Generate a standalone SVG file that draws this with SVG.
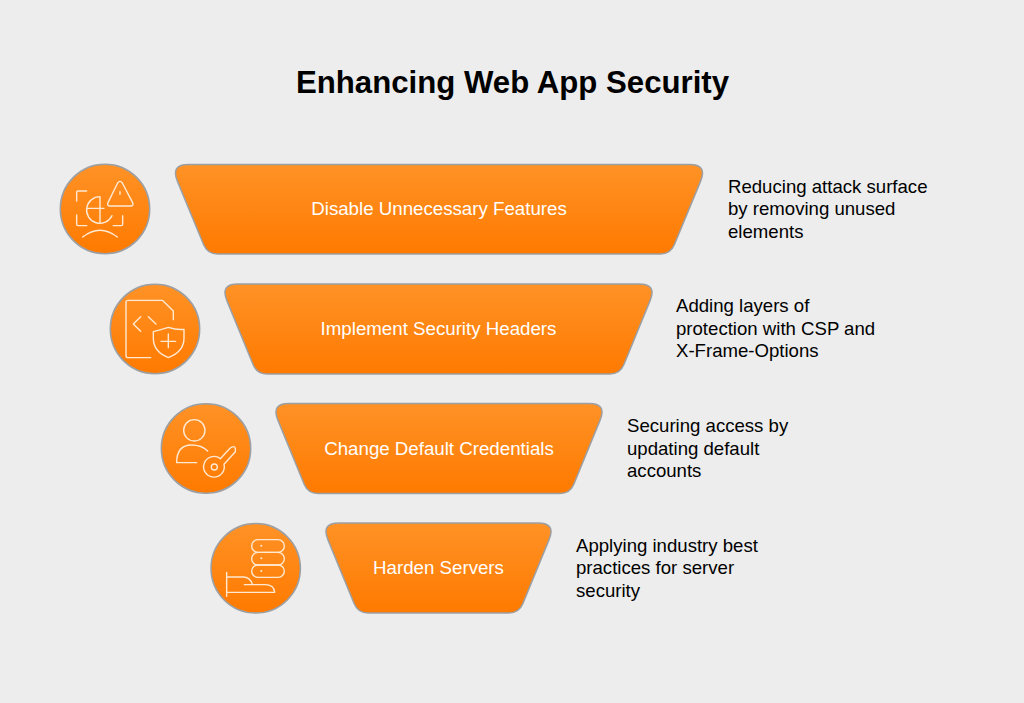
<svg xmlns="http://www.w3.org/2000/svg" width="1024" height="703" viewBox="0 0 1024 703">
<style>
.f{fill:url(#g);stroke:#9c9fa3;stroke-width:1.5}
.i{fill:none;stroke:#ffe9d2;stroke-width:4.2;stroke-linecap:round;stroke-linejoin:round}
.d{fill:#ffe9d2}
text{font-family:"Liberation Sans",Arial,sans-serif}
.t{font-size:31.2px;font-weight:700;fill:#000;text-anchor:middle}
.l{font-size:18.7px;fill:#fff;text-anchor:middle}
.x{font-size:18.6px;fill:#000}
</style>
<defs>
<linearGradient id="g" x1="0" y1="0" x2="0" y2="1"><stop offset="0" stop-color="#ff9226"/><stop offset="1" stop-color="#ff7a00"/></linearGradient>
</defs>
<rect width="1024" height="703" fill="#ededed"/>
<text class="t" x="512.5" y="93">Enhancing Web App Security</text>
<g id="connectors"/>
<g id="step1">
<circle class="f" cx="105" cy="209" r="44.7"/>
<g transform="translate(50 155) scale(.3333)">
<path class="i" d="M110 108H84Q80 108 80 112V138M80 180V208Q80 212 84 212H110M190 212H214Q218 212 218 208V182"/>
<path class="i" d="M150 125A40 40 0 1 0 186 182M150 125V204M110 160H162"/>
<path class="i" d="M203 84Q210 74 217 84L248 143Q252 153 242 153H180Q170 153 174 143ZM210 110V118"/>
<path class="i" d="M98 246Q150 205 202 246"/>
</g>
<path class="f" d="M188.4 164.5H689.6Q707.6 164.5 700.6 181.1L674.3 244.8Q670.5 254 660.5 254H217.5Q207.5 254 203.7 244.8L177.4 181.1Q170.4 164.5 188.4 164.5Z"/>
<text class="l" x="439" y="215">Disable Unnecessary Features</text>
<text class="x" x="728" y="192.5">Reducing attack surface</text>
<text class="x" x="728" y="215">by removing unused</text>
<text class="x" x="728" y="237.5">elements</text>
</g>
<g id="step2">
<circle class="f" cx="155" cy="329" r="44.7"/>
<g transform="translate(100 275) scale(.3333)">
<path class="i" d="M152 248H84Q78 248 78 242V82Q78 76 84 76H187L220 108V134"/>
<path class="i" d="M122 125L100 147L122 169M145 125L168 147"/>
<path class="i" d="M205 157Q230 165 252 163V190Q252 230 205 248Q160 230 160 190V170Q180 165 205 157ZM183 199H227M205 177V218"/>
</g>
<path class="f" d="M237.9 284H639.1Q657.1 284 650.1 300.6L623.8 364.8Q620 374 610 374H267Q257 374 253.2 364.8L226.9 300.6Q219.9 284 237.9 284Z"/>
<text class="l" x="438.5" y="334.5">Implement Security Headers</text>
<text class="x" x="676" y="312">Adding layers of</text>
<text class="x" x="676" y="334.5">protection with CSP and</text>
<text class="x" x="676" y="357">X-Frame-Options</text>
</g>
<g id="step3">
<circle class="f" cx="206" cy="448.5" r="44.7"/>
<g transform="translate(150 395) scale(.3333)">
<circle class="i" cx="133" cy="106" r="32"/>
<path class="i" d="M140 203H80Q80 150 125 150Q155 150 173 168"/>
<path class="i" d="M211 191L240 160Q252 150 256 160V170L222 208A31 31 0 1 1 211 191Z"/>
<circle class="i" cx="193" cy="216" r="9"/>
</g>
<path class="f" d="M288.9 403.5H589.1Q607.1 403.5 600.1 420.1L573.8 484.3Q570 493.5 560 493.5H318Q308 493.5 304.2 484.3L277.9 420.1Q270.9 403.5 288.9 403.5Z"/>
<text class="l" x="439" y="454.5">Change Default Credentials</text>
<text class="x" x="627" y="432">Securing access by</text>
<text class="x" x="627" y="454.5">updating default</text>
<text class="x" x="627" y="477">accounts</text>
</g>
<g id="step4">
<circle class="f" cx="255.7" cy="568.3" r="44.7"/>
<g transform="translate(200 515) scale(.3333)">
<rect class="i" x="155" y="74" width="98" height="38" rx="19"/>
<rect class="i" x="155" y="112" width="98" height="38" rx="19"/>
<rect class="i" x="155" y="150" width="98" height="37" rx="18.5"/>
<circle class="d" cx="184" cy="92" r="3"/><circle class="d" cx="184" cy="130" r="3"/><circle class="d" cx="184" cy="168" r="3"/>
<path class="i" d="M80 172V244M80 186H130Q150 186 157 208M133 209H195Q222 209 224 232H80"/>
</g>
<path class="f" d="M338.9 523H538.1Q556.1 523 549.1 539.6L522.8 603.8Q519 613 509 613H368Q358 613 354.2 603.8L327.9 539.6Q320.9 523 338.9 523Z"/>
<text class="l" x="438.5" y="574">Harden Servers</text>
<text class="x" x="576" y="551.5">Applying industry best</text>
<text class="x" x="576" y="574">practices for server</text>
<text class="x" x="576" y="596.5">security</text>
</g>
</svg>
